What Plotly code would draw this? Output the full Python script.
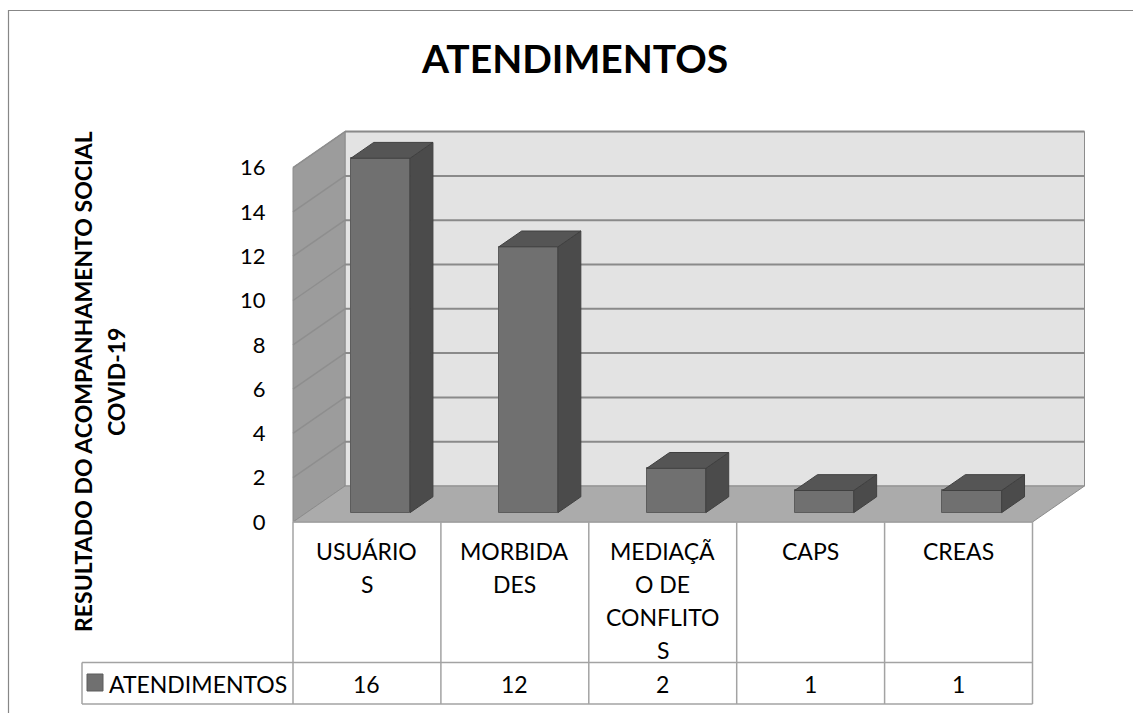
import plotly.graph_objects as go

# ---------------- data ----------------
categories = ["USUÁRIOS", "MORBIDADES", "MEDIAÇÃO DE CONFLITOS", "CAPS", "CREAS"]
category_lines = [["USUÁRIO", "S"], ["MORBIDA", "DES"], ["MEDIAÇÃ", "O DE", "CONFLITO", "S"], ["CAPS"], ["CREAS"]]
values = [16, 12, 2, 1, 1]
series_name = "ATENDIMENTOS"
y_ticks = [0, 2, 4, 6, 8, 10, 12, 14, 16]
chart_title = "ATENDIMENTOS"
y_title_lines = ["RESULTADO DO ACOMPANHAMENTO SOCIAL", "COVID-19"]

# ---------------- geometry / style ----------------
W, H = 1133, 713
PL, PR, PT, PB = 78, 1085, 128, 708      # plot-area box in pixels
ORIGIN_X, ORIGIN_Y = 293, 522            # pixel of (x=-0.5, y=0) on the front plane
CAT_PX, VAL_PX = 147.9, 22.15            # pixels per category / per unit value

FONT = "Lato"
x_range = [-0.5 - (ORIGIN_X - PL) / CAT_PX, -0.5 + (PR - ORIGIN_X) / CAT_PX]
y_range = [-(PB - ORIGIN_Y) / VAL_PX, (ORIGIN_Y - PT) / VAL_PX]


def px2x(p):
    return -0.5 + (p - ORIGIN_X) / CAT_PX


def py2y(p):
    return (ORIGIN_Y - p) / VAL_PX


def px2paper(p):
    return (p - PL) / (PR - PL)


def py2paper(p):
    return (PB - p) / (PB - PT)


DX = 52 / CAT_PX        # full depth offset (x units)
DY = 36 / VAL_PX        # full depth offset (value units)
F0, F1 = 0.26, 0.70     # bar depth fractions
BW = 0.40               # bar front width
n = len(categories)
WALL_TOP = max(y_ticks)
XL, XR = -0.5, n - 0.5

C_BACK, C_LEFT, C_FLOOR = "#e3e3e3", "#9c9c9c", "#ababab"
C_EDGE, C_GRID = "#8c8c8c", "#8a8a8a"
C_FRONT, C_SIDE, C_TOP = "#707070", "#4b4b4b", "#555555"
C_TABLE = "#a3a3a3"

shapes = []
# back wall
shapes.append(dict(type="rect", xref="x", yref="y", x0=XL + DX, x1=XR + DX, y0=DY, y1=WALL_TOP + DY,
                   fillcolor=C_BACK, line=dict(color=C_EDGE, width=1), layer="below"))
# left wall
shapes.append(dict(type="path", xref="x", yref="y",
                   path=f"M{XL},0 L{XL + DX},{DY} L{XL + DX},{WALL_TOP + DY} L{XL},{WALL_TOP} Z",
                   fillcolor=C_LEFT, line=dict(color=C_EDGE, width=1), layer="below"))
# floor
shapes.append(dict(type="path", xref="x", yref="y",
                   path=f"M{XL},0 L{XR},0 L{XR + DX},{DY} L{XL + DX},{DY} Z",
                   fillcolor=C_FLOOR, line=dict(color=C_EDGE, width=1), layer="below"))
# gridlines
for t in y_ticks[1:]:
    shapes.append(dict(type="line", xref="x", yref="y", x0=XL + DX, x1=XR + DX, y0=t + DY, y1=t + DY,
                       line=dict(color=C_GRID, width=2), layer="below"))
    shapes.append(dict(type="line", xref="x", yref="y", x0=XL, x1=XL + DX, y0=t, y1=t + DY,
                       line=dict(color="#8e8e8e", width=1.5), layer="below"))

# ---------------- table ----------------
row_mid = py2y(662.5)
tab_bot = py2y(704)
lab_left = px2x(82)
tline = dict(color=C_TABLE, width=1.5)
shapes.append(dict(type="line", xref="x", yref="y", x0=XL, x1=XR, y0=0, y1=0, line=tline))
for yy in (row_mid, tab_bot):
    shapes.append(dict(type="line", xref="x", yref="y", x0=lab_left, x1=XR, y0=yy, y1=yy, line=tline))
for i in range(n + 1):
    xx = XL + i
    shapes.append(dict(type="line", xref="x", yref="y", x0=xx, x1=xx, y0=tab_bot, y1=0, line=tline))
shapes.append(dict(type="line", xref="x", yref="y", x0=lab_left, x1=lab_left, y0=tab_bot, y1=row_mid, line=tline))
# legend swatch in the table
shapes.append(dict(type="rect", xref="x", yref="y", x0=px2x(87), x1=px2x(103), y0=py2y(691), y1=py2y(674),
                   fillcolor=C_FRONT, line=dict(color="#5c5c5c", width=1)))
# outer chart frame
shapes.append(dict(type="rect", xref="paper", yref="paper", x0=px2paper(8.5), x1=px2paper(1145),
                   y0=py2paper(725), y1=py2paper(10.5), line=dict(color="#878787", width=1.2),
                   fillcolor="rgba(0,0,0,0)", layer="below"))

annotations = []
annotations.append(dict(text=f"<b>{chart_title}</b>", xref="paper", yref="paper", x=px2paper(574), y=py2paper(58),
                        xanchor="center", yanchor="middle", showarrow=False,
                        font=dict(family=FONT, size=39, color="black")))
for k, (line, xc) in enumerate(zip(y_title_lines, (83, 116))):
    annotations.append(dict(text=f"<b>{line}</b>", xref="paper", yref="paper", x=px2paper(xc), y=py2paper(382),
                            xanchor="center", yanchor="middle", textangle=-90, showarrow=False,
                            font=dict(family=FONT, size=23, color="black")))
LINE0, PITCH = 551, 33
for i, lines in enumerate(category_lines):
    for j, s in enumerate(lines):
        annotations.append(dict(text=s, xref="x", yref="y", x=i, y=py2y(LINE0 + j * PITCH),
                                xanchor="center", yanchor="middle", showarrow=False,
                                font=dict(family=FONT, size=23, color="black")))
for i, v in enumerate(values):
    annotations.append(dict(text=str(v), xref="x", yref="y", x=i, y=py2y(684),
                            xanchor="center", yanchor="middle", showarrow=False,
                            font=dict(family=FONT, size=23, color="black")))
annotations.append(dict(text=series_name, xref="x", yref="y", x=px2x(107), y=py2y(684),
                        xanchor="left", yanchor="middle", showarrow=False,
                        font=dict(family=FONT, size=23, color="black")))

# ---------------- bars ----------------
x_idx = list(range(n))
front_x = [i + F0 * DX for i in x_idx]
base0 = F0 * DY
ddx, ddy = (F1 - F0) * DX, (F1 - F0) * DY

fig = go.Figure()
fig.add_trace(go.Bar(x=front_x, y=values, base=base0, width=BW, name=series_name,
                     marker=dict(color=C_FRONT, line=dict(color="#5c5c5c", width=1)),
                     showlegend=False, hoverinfo="skip"))
side_x, side_y, top_x, top_y = [], [], [], []
for i, v in zip(x_idx, values):
    xl = i + F0 * DX - BW / 2
    xr = i + F0 * DX + BW / 2
    yt = v + base0
    side_x += [xr, xr + ddx, xr + ddx, xr, xr, None]
    side_y += [base0, base0 + ddy, yt + ddy, yt, base0, None]
    top_x += [xl, xr, xr + ddx, xl + ddx, xl, None]
    top_y += [yt, yt, yt + ddy, yt + ddy, yt, None]
fig.add_trace(go.Scatter(x=side_x, y=side_y, mode="lines", fill="toself", fillcolor=C_SIDE,
                         line=dict(color="#404040", width=1), showlegend=False, hoverinfo="skip"))
fig.add_trace(go.Scatter(x=top_x, y=top_y, mode="lines", fill="toself", fillcolor=C_TOP,
                         line=dict(color="#404040", width=1), showlegend=False, hoverinfo="skip"))

fig.update_layout(
    width=W, height=H, autosize=False,
    margin=dict(l=PL, r=W - PR, t=PT, b=H - PB, pad=0),
    paper_bgcolor="white", plot_bgcolor="rgba(0,0,0,0)",
    xaxis=dict(range=x_range, visible=False, fixedrange=True),
    yaxis=dict(range=y_range, anchor="free", position=px2paper(ORIGIN_X), tickvals=y_ticks,
               ticks="outside", ticklen=23, tickcolor="rgba(0,0,0,0)", showgrid=False, zeroline=False,
               showline=False, fixedrange=True, tickfont=dict(family=FONT, size=22, color="black")),
    shapes=shapes, annotations=annotations, bargap=0, showlegend=False,
)

fig.write_html("out.html", config={"displayModeBar": False},
               post_script="document.body.style.margin='0';document.body.style.overflow='hidden';")
